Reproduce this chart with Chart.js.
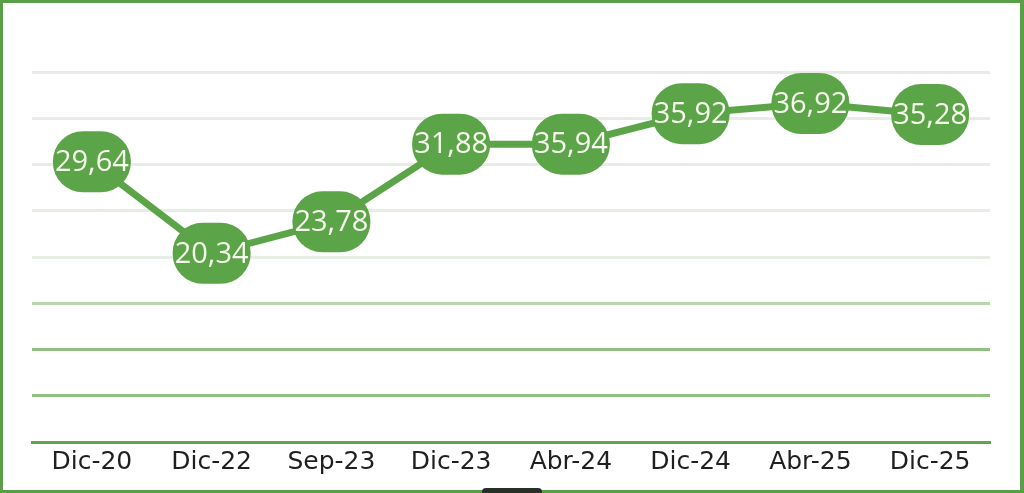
<!DOCTYPE html>
<html>
<head>
<meta charset="utf-8">
<script src="https://cdn.jsdelivr.net/npm/chart.js@4/dist/chart.umd.min.js"></script>
<style>
  html, body { margin: 0; padding: 0; background: #ffffff; }
  #frame { position: absolute; left: 0; top: 0; width: 1024px; height: 493px; box-sizing: border-box; border: 3px solid #5a9e48; border-right-width: 4px; background: #fff; }
  #wrap { position: absolute; left: 0; top: 0; width: 1024px; height: 493px; }
  #handle { position: absolute; left: 482px; top: 488px; width: 60px; height: 8px; border-radius: 4px; background: #263026; }
</style>
</head>
<body>
<div id="frame"></div>
<div id="wrap"><canvas id="c" width="1024" height="493"></canvas></div>
<div id="handle"></div>
<script>
// Category labels (x axis)
const categories = ['Dic-20', 'Dic-22', 'Sep-23', 'Dic-23', 'Abr-24', 'Dic-24', 'Abr-25', 'Dic-25'];
// Values printed in the labels
const labelValues = ['29,64', '20,34', '23,78', '31,88', '35,94', '35,92', '36,92', '35,28'];
// Plotted levels
const plotted = [30.3, 20.4, 23.8, 32.2, 32.2, 35.5, 36.6, 35.4];
// Hidden y scale range
const yMin = 0, yMax = 40, yStep = 5;

const green = '#5ba448';

const pillPlugin = {
  id: 'pills',
  afterDatasetsDraw(chart) {
    const ctx = chart.ctx;
    const meta = chart.getDatasetMeta(0);
    ctx.save();
    meta.data.forEach((pt, i) => {
      const w = 78, h = 61;
      ctx.beginPath();
      ctx.roundRect(pt.x - w / 2, pt.y - h / 2, w, h, 30);
      ctx.fillStyle = green;
      ctx.fill();
      ctx.fillStyle = '#f6faec';
      ctx.font = '29px "Open Sans"';
      ctx.textAlign = 'center';
      ctx.textBaseline = 'middle';
      ctx.fillText(labelValues[i], pt.x, pt.y + 1);
    });
    ctx.restore();
  }
};

new Chart(document.getElementById('c'), {
  type: 'line',
  data: {
    labels: categories,
    datasets: [{
      data: plotted,
      borderColor: green,
      borderWidth: 7,
      pointRadius: 0,
      tension: 0,
      fill: false
    }]
  },
  options: {
    responsive: false,
    animation: false,
    layout: { padding: { left: 32, right: 34, top: 72, bottom: 11 } },
    plugins: { legend: { display: false }, tooltip: { enabled: false } },
    scales: {
      x: {
        offset: true,
        grid: { display: false, drawTicks: false },
        border: { display: true, color: '#5ea84c', width: 3 },
        ticks: { color: '#1f1f1f', font: { family: 'DejaVu Sans', size: 25 }, padding: 5, maxRotation: 0 }
      },
      y: {
        min: yMin, max: yMax,
        ticks: { display: false, stepSize: yStep },
        border: { display: false },
        grid: {
          drawTicks: false,
          lineWidth: 3,
          color: (c) => {
            const i = c.index;
            if (i === 0) return 'rgba(0,0,0,0)';
            if (i === 1 || i === 2) return '#90bf82';
            if (i === 3) return '#b8d6ad';
            return '#e7ece4';
          }
        }
      }
    }
  },
  plugins: [pillPlugin]
});
</script>
</body>
</html>
